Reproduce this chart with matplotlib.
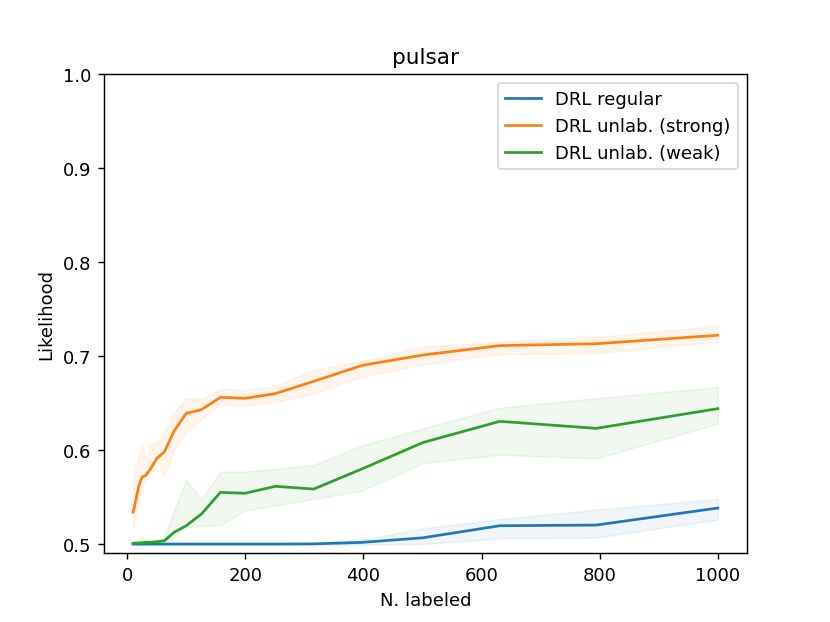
import numpy as np
import matplotlib
matplotlib.use('Agg')
import matplotlib.pyplot as plt

# number of labeled points (log spaced, 10 .. 1000)
n_labeled = [10, 12.6, 15.8, 20, 25.1, 31.6, 39.8, 50.1, 63.1, 79.4, 100,
             126, 158, 200, 251, 316, 398, 501, 631, 794, 1000]

# DRL regular
regular = [0.5, 0.5, 0.5, 0.5, 0.5, 0.5, 0.5, 0.5, 0.5, 0.5, 0.5,
           0.5, 0.5, 0.5, 0.5, 0.5002, 0.5018, 0.5067, 0.5195, 0.5202, 0.5383]
regular_lo = [0.5, 0.5, 0.5, 0.5, 0.5, 0.5, 0.5, 0.5, 0.5, 0.5, 0.5,
              0.5, 0.5, 0.5, 0.5, 0.4995, 0.4995, 0.5, 0.506, 0.507, 0.526]
regular_hi = [0.5, 0.5, 0.5, 0.5, 0.5, 0.5, 0.5, 0.5, 0.5, 0.5, 0.5,
              0.5, 0.5, 0.5, 0.5, 0.5012, 0.5046, 0.5167, 0.5266, 0.5365, 0.548]

# DRL unlab. (strong)
strong = [0.534, 0.540, 0.550, 0.562, 0.571, 0.573, 0.580, 0.591, 0.598, 0.620, 0.639,
          0.643, 0.656, 0.655, 0.660, 0.673, 0.690, 0.701, 0.711, 0.713, 0.722]
strong_lo = [0.516, 0.525, 0.538, 0.552, 0.558, 0.572, 0.578, 0.589, 0.571, 0.601, 0.619,
             0.633, 0.649, 0.647, 0.651, 0.660, 0.678, 0.691, 0.702, 0.703, 0.715]
strong_hi = [0.569, 0.577, 0.586, 0.595, 0.605, 0.590, 0.606, 0.608, 0.619, 0.640, 0.655,
             0.654, 0.665, 0.664, 0.668, 0.685, 0.695, 0.710, 0.715, 0.720, 0.732]

# DRL unlab. (weak)
weak = [0.5007, 0.501, 0.501, 0.5012, 0.5015, 0.502, 0.502, 0.5025, 0.5035, 0.5124, 0.5195,
        0.532, 0.555, 0.554, 0.5614, 0.5585, 0.580, 0.608, 0.6305, 0.623, 0.644]
weak_lo = [0.499, 0.499, 0.499, 0.499, 0.499, 0.5, 0.5, 0.5005, 0.5015, 0.508, 0.518,
           0.5195, 0.520, 0.536, 0.541, 0.548, 0.557, 0.586, 0.595, 0.591, 0.628]
weak_hi = [0.5025, 0.503, 0.503, 0.504, 0.509, 0.503, 0.503, 0.504, 0.5055, 0.536, 0.568,
           0.548, 0.577, 0.577, 0.580, 0.584, 0.605, 0.623, 0.645, 0.655, 0.667]

fig, ax = plt.subplots(figsize=(6.385, 4.792), dpi=130)

ax.plot(n_labeled, regular, color='tab:blue', label='DRL regular')
ax.fill_between(n_labeled, regular_lo, regular_hi, color='tab:blue', alpha=0.07)

ax.plot(n_labeled, strong, color='tab:orange', label='DRL unlab. (strong)')
ax.fill_between(n_labeled, strong_lo, strong_hi, color='tab:orange', alpha=0.07)

ax.plot(n_labeled, weak, color='tab:green', label='DRL unlab. (weak)')
ax.fill_between(n_labeled, weak_lo, weak_hi, color='tab:green', alpha=0.07)

ax.set_ylim(0.49, 1.0)
ax.set_yticks([0.5, 0.6, 0.7, 0.8, 0.9, 1.0])
ax.set_title('pulsar')
ax.set_xlabel('N. labeled')
ax.set_ylabel('Likelihood')
ax.legend(loc='upper right')

fig.savefig('out.png')
